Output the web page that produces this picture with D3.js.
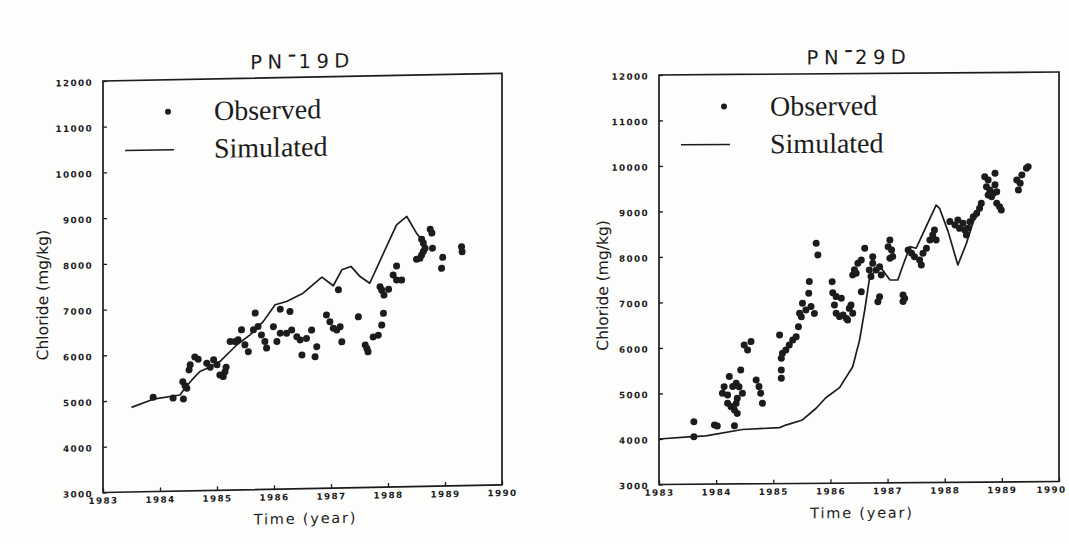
<!DOCTYPE html>
<html lang="en">
<head>
<meta charset="UTF-8">
<title>Chloride PN-19D / PN-29D</title>
<script src="https://d3js.org/d3.v7.min.js"></script>
<style>
  body {margin: 0; background: #fdfdfc;}
  svg {display: block;}
  .tick text {font-family: "DejaVu Sans", sans-serif; font-weight: bold; font-size: 8.8px; letter-spacing: 1.4px; fill: #1c1c1c;}
  .tick line {stroke: #1c1c1c; stroke-width: 1.3;}
</style>
</head>
<body>
<svg id="fig" width="1069" height="544"></svg>
<script>
// axis ticks
let yearTicks = [1983, 1984, 1985, 1986, 1987, 1988, 1989, 1990]
let chlorideTicks = [3000, 4000, 5000, 6000, 7000, 8000, 9000, 10000, 11000, 12000]

// PN-19D
let sim19_t = [1983.50, 1983.88, 1984.35, 1984.44, 1984.56, 1984.70, 1984.88, 1985.05, 1985.23, 1985.35, 1985.58, 1985.81, 1986.02, 1986.22, 1986.51, 1986.84, 1987.04, 1987.19, 1987.35, 1987.51, 1987.68, 1987.92, 1988.15, 1988.33, 1988.50, 1988.62]
let sim19_v = [4850, 5020, 5100, 5250, 5425, 5605, 5700, 5815, 6030, 6175, 6385, 6670, 7035, 7100, 7275, 7620, 7425, 7770, 7840, 7615, 7465, 8115, 8730, 8910, 8540, 8355]
let obs19_t = [1983.88, 1984.23, 1984.41, 1984.40, 1984.44, 1984.47, 1984.53, 1984.51, 1984.61, 1984.67, 1984.82, 1984.88, 1984.94, 1985.00, 1985.05, 1985.11, 1985.16, 1985.14,
    1985.23, 1985.32, 1985.37, 1985.43, 1985.49, 1985.55, 1985.67, 1985.64, 1985.72, 1985.78, 1985.84, 1985.87, 1985.99, 1986.05, 1986.11, 1986.11, 1986.28, 1986.22,
    1986.31, 1986.40, 1986.46, 1986.49, 1986.57, 1986.66, 1986.75, 1986.72, 1986.92, 1986.98, 1987.04, 1987.10, 1987.16, 1987.19, 1987.13, 1987.48, 1987.60, 1987.63,
    1987.65, 1987.74, 1987.83, 1987.89, 1987.92, 1987.86, 1987.89, 1987.93, 1988.01, 1988.09, 1988.15, 1988.15, 1988.24, 1988.50, 1988.56, 1988.59, 1988.62, 1988.65,
    1988.62, 1988.59, 1988.74, 1988.77, 1988.78, 1988.96, 1988.94, 1989.29, 1989.30]
let obs19_v = [5060, 5035, 5010, 5390, 5300, 5245, 5755, 5645, 5925, 5875, 5785, 5695, 5855, 5745, 5520, 5485, 5690, 5590,
    6250, 6245, 6285, 6500, 6170, 6020, 6860, 6495, 6565, 6380, 6235, 6090, 6555, 6230, 6410, 6935, 6880, 6405,
    6475, 6325, 6255, 5925, 6285, 6465, 6100, 5880, 6790, 6640, 6495, 6455, 6525, 6195, 7335, 6735, 6115, 6040,
    5965, 6290, 6325, 6545, 6800, 7385, 7310, 7200, 7325, 7635, 7830, 7525, 7520, 7970, 7990, 8060, 8135, 8205,
    8320, 8405, 8620, 8535, 8205, 8000, 7760, 8225, 8115]

// PN-29D
let sim29_t = [1983.00, 1983.58, 1983.82, 1984.46, 1985.11, 1985.22, 1985.51, 1985.75, 1985.92, 1986.16, 1986.39, 1986.51, 1986.60, 1986.68, 1986.74, 1986.89, 1987.04, 1987.18, 1987.24, 1987.39, 1987.50, 1987.62, 1987.85, 1987.91, 1988.06, 1988.23, 1988.38, 1988.50, 1988.61]
let sim29_v = [4000, 4045, 4060, 4195, 4230, 4285, 4395, 4650, 4880, 5100, 5555, 6140, 6800, 7460, 7605, 7715, 7460, 7455, 7675, 8185, 8150, 8475, 9095, 9025, 8510, 7775, 8250, 8725, 8935]
let obs29_t = [1983.61, 1983.61, 1983.97, 1984.02, 1984.32, 1984.49, 1984.55, 1984.61, 1984.43, 1984.70, 1984.75, 1984.78, 1984.81, 1984.23, 1984.14, 1984.11, 1984.20, 1984.29,
    1984.35, 1984.40, 1984.46, 1984.37, 1984.20, 1984.26, 1984.32, 1984.37, 1984.35, 1985.11, 1985.14, 1985.14, 1985.14, 1985.16, 1985.22, 1985.28, 1985.34, 1985.40,
    1985.44, 1985.46, 1985.49, 1985.51, 1985.57, 1985.66, 1985.72, 1985.63, 1985.62, 1985.75, 1985.78, 1986.03, 1986.04, 1986.10, 1986.19, 1986.07, 1986.10, 1986.16,
    1986.22, 1986.28, 1986.33, 1986.30, 1986.39, 1986.54, 1986.83, 1986.86, 1987.27, 1987.30, 1987.27, 1986.36, 1986.60, 1986.54, 1986.48, 1986.42, 1986.39, 1986.45,
    1986.74, 1986.74, 1986.80, 1986.86, 1986.89, 1986.68, 1986.71, 1987.04, 1987.01, 1987.07, 1987.09, 1987.04, 1987.36, 1987.42, 1987.47, 1987.56, 1987.59, 1987.62,
    1987.68, 1987.74, 1987.79, 1987.82, 1987.85, 1988.09, 1988.18, 1988.23, 1988.26, 1988.32, 1988.35, 1988.41, 1988.38, 1988.44, 1988.50, 1988.56, 1988.61, 1988.64,
    1988.70, 1988.88, 1988.73, 1988.79, 1988.85, 1988.82, 1988.88, 1988.91, 1988.76, 1988.91, 1988.96, 1988.99, 1989.26, 1989.32, 1989.29, 1989.35, 1989.43, 1989.46, 1988.76]
let obs29_v = [4045, 4375, 4300, 4275, 4280, 6050, 5940, 6125, 5505, 5280, 5135, 4990, 4770, 5360, 5140, 4995, 4955, 5140,
    5210, 5135, 4990, 4880, 4775, 4700, 4625, 4550, 4770, 6265, 5495, 5315, 5755, 5865, 5935, 6045, 6155, 6225,
    6445, 6740, 6665, 6960, 6810, 6885, 6735, 7435, 7180, 8275, 8020, 7430, 7185, 7100, 7065, 6915, 6735, 6660,
    6695, 6620, 6840, 6585, 6730, 7205, 6980, 7090, 7125, 7050, 6980, 6915, 8160, 7900, 7830, 7685, 7575, 7610,
    7970, 7825, 7680, 7750, 7570, 7680, 7535, 8335, 8190, 8115, 7970, 7935, 8115, 8040, 7965, 7890, 7780, 8040,
    8150, 8330, 8440, 8550, 8330, 8730, 8655, 8765, 8580, 8690, 8545, 8580, 8435, 8725, 8835, 8910, 9020, 9130,
    9710, 9785, 9490, 9420, 9345, 9270, 9530, 9380, 9310, 9125, 9050, 8975, 9635, 9560, 9415, 9745, 9890, 9925, 9640]

let ink = "#1c1c1c"
let svg = d3.select("#fig")

// one scanned panel; skew mimics the slightly tilted page
function panel(o) {
    let g = svg.append("g")
        .attr("transform", `translate(${o.x},${o.y}) skewY(${o.skew})`)

    let x = d3.scaleLinear().domain([1983, 1990]).range([0, o.w])
    let y = d3.scaleLinear().domain([3000, 12000]).range([o.h, 0])

    g.append("rect")
        .attr("width", o.w).attr("height", o.h)
        .attr("fill", "none").attr("stroke", ink).attr("stroke-width", 1.7)

    let xa = g.append("g")
        .attr("transform", `translate(0,${o.h})`)
        .call(d3.axisBottom(x).tickValues(yearTicks).tickFormat(d3.format("d"))
            .tickSizeInner(-4).tickSizeOuter(0).tickPadding(5))
        .call(a => a.select(".domain").remove())
    // last year label sits at the page edge on the right panel
    xa.selectAll("text").filter(d => d === 1990).attr("dx", o.lastDx)

    g.append("g")
        .call(d3.axisLeft(y).tickValues(chlorideTicks).tickFormat(d3.format("d"))
            .tickSizeInner(-4).tickSizeOuter(0).tickPadding(10))
        .call(a => a.select(".domain").remove())
        .selectAll("text").attr("dy", "0.45em")

    // simulated
    let line = d3.line().x(d => x(d[0])).y(d => y(d[1]))
    g.append("path")
        .datum(d3.zip(o.simT, o.simV))
        .attr("d", line)
        .attr("fill", "none").attr("stroke", ink).attr("stroke-width", 1.7)
        .attr("stroke-linejoin", "round")

    // observed
    g.append("g").selectAll("circle")
        .data(d3.zip(o.obsT, o.obsV))
        .join("circle")
        .attr("cx", d => x(d[0])).attr("cy", d => y(d[1]))
        .attr("r", 3.5).attr("fill", ink)

    // title, the dash drawn high like the original lettering
    let t = g.append("text")
        .attr("x", o.w / 2).attr("y", o.titleY)
        .attr("text-anchor", "middle")
        .attr("font-family", "DejaVu Sans, sans-serif")
        .attr("font-size", 19.5).attr("letter-spacing", 5.5).attr("fill", ink)
    t.append("tspan").text("PN")
    t.append("tspan").attr("dy", -6).attr("font-size", 25).attr("letter-spacing", 2).text("-")
    t.append("tspan").attr("dy", 6).text(o.title)

    // legend
    g.append("circle").attr("cx", 65).attr("cy", 32).attr("r", 3).attr("fill", ink)
    g.append("line").attr("x1", 22).attr("x2", 71).attr("y1", 70).attr("y2", 70)
        .attr("stroke", ink).attr("stroke-width", 1.5)
    g.selectAll(".leg").data([["Observed", 41.5], ["Simulated", 79]]).join("text")
        .attr("x", 111).attr("y", d => d[1])
        .attr("font-family", "Liberation Serif, serif").attr("font-size", 28)
        .attr("fill", ink).text(d => d[0])

    // axis titles
    g.append("text")
        .attr("x", o.w / 2 + 3).attr("y", o.h + 35)
        .attr("text-anchor", "middle")
        .attr("font-family", "DejaVu Sans, sans-serif").attr("font-size", 14.5)
        .attr("letter-spacing", 1.8).attr("fill", ink)
        .text("Time (year)")
    g.append("text")
        .attr("transform", `translate(${o.ylabX},${o.ylabY}) rotate(-90)`)
        .attr("text-anchor", "middle")
        .attr("font-family", "DejaVu Sans, sans-serif").attr("font-size", 15.5)
        .attr("fill", ink)
        .text("Chloride (mg/kg)")
}

panel({x: 103, y: 81, w: 399, h: 411.5, skew: -1.1, title: "19D", titleY: -9,
    ylabX: -55, ylabY: 213, lastDx: 0,
    simT: sim19_t, simV: sim19_v, obsT: obs19_t, obsV: obs19_v})

panel({x: 659, y: 75, w: 400, h: 409.5, skew: -0.43, title: "29D", titleY: -9.5,
    ylabX: -51, ylabY: 210, lastDx: -8,
    simT: sim29_t, simV: sim29_v, obsT: obs29_t, obsV: obs29_v})
</script>
</body>
</html>
